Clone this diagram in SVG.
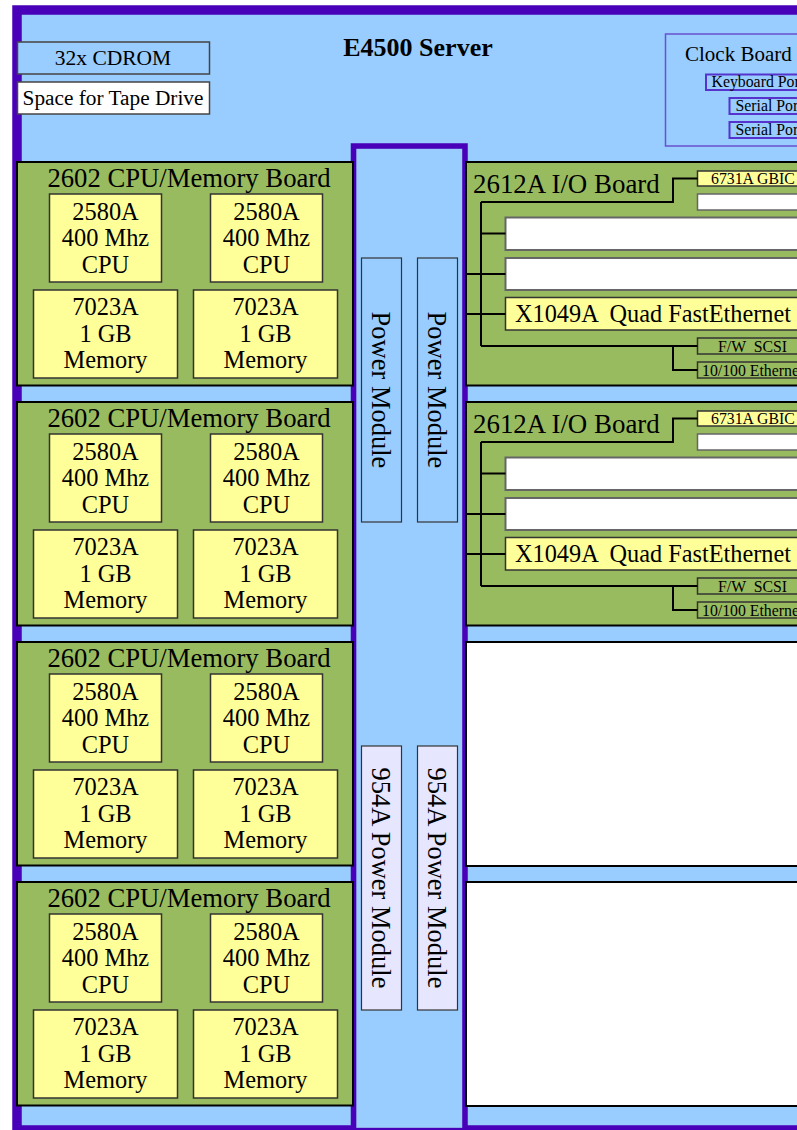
<svg xmlns="http://www.w3.org/2000/svg" width="797" height="1130" viewBox="0 0 797 1130">
<style>
.t{font-family:"Liberation Serif","Times New Roman",serif;fill:#000}
.board{fill:#99bb5f;stroke:#000;stroke-width:2}
.chip{fill:#ffff99;stroke:#333;stroke-width:1.5}
.slot{fill:#fff;stroke:#666;stroke-width:2}
.pm{fill:#99ccff;stroke:#333;stroke-width:1.2}
.pm2{fill:#e6e6ff;stroke:#333;stroke-width:1.2}
.port{fill:#99ccff;stroke:#5533cc;stroke-width:2}
.small{fill:#99bb5f;stroke:#333;stroke-width:1.5}
.bus{fill:none;stroke:#000;stroke-width:2}
.c24{font-size:24.4px;text-anchor:middle}
.s15{font-size:15.8px}
</style>
<defs>
<g id="cpuBoard">
  <rect class="board" x="17" y="162" width="336" height="223.5"/>
  <text class="t" x="189" y="187" font-size="26.7" text-anchor="middle">2602 CPU/Memory Board</text>
  <rect class="chip" x="49.5" y="194" width="112" height="88"/>
  <rect class="chip" x="210.5" y="194" width="112" height="88"/>
  <rect class="chip" x="33.5" y="290" width="144" height="88"/>
  <rect class="chip" x="193.5" y="290" width="144" height="88"/>
  <text class="t c24" x="105.5" y="219.5">2580A</text>
  <text class="t c24" x="105.5" y="246">400 Mhz</text>
  <text class="t c24" x="105.5" y="272.5">CPU</text>
  <text class="t c24" x="266.5" y="219.5">2580A</text>
  <text class="t c24" x="266.5" y="246">400 Mhz</text>
  <text class="t c24" x="266.5" y="272.5">CPU</text>
  <text class="t c24" x="105.5" y="315">7023A</text>
  <text class="t c24" x="105.5" y="341.5">1 GB</text>
  <text class="t c24" x="105.5" y="368">Memory</text>
  <text class="t c24" x="265.5" y="315">7023A</text>
  <text class="t c24" x="265.5" y="341.5">1 GB</text>
  <text class="t c24" x="265.5" y="368">Memory</text>
</g>
</defs>

<g id="chassis">
  <rect x="17" y="10" width="830" height="1120" fill="#99ccff" stroke="#4800b8" stroke-width="9.5"/>
  <text class="t" x="418" y="56" font-size="26" font-weight="bold" text-anchor="middle">E4500 Server</text>
</g>

<g id="cdrom">
  <rect x="17.5" y="42" width="192" height="32" fill="#99ccff" stroke="#444" stroke-width="1.5"/>
  <text class="t" x="113" y="65" font-size="21.5" text-anchor="middle">32x CDROM</text>
</g>
<g id="tape">
  <rect x="17.5" y="82" width="192" height="32" fill="#fff" stroke="#444" stroke-width="1.5"/>
  <text class="t" x="113" y="105" font-size="21.3" text-anchor="middle">Space for Tape Drive</text>
</g>

<g id="clock-board">
  <rect x="665.5" y="34" width="160" height="112" fill="#99ccff" stroke="#6a50d0" stroke-width="1.5"/>
  <text class="t" x="685" y="61" font-size="21">Clock Board</text>
</g>
<g id="keyboard-port">
  <rect class="port" x="706" y="74.5" width="110" height="15.5"/>
  <text class="t s15" x="711.5" y="87">Keyboard Port</text>
</g>
<g id="serial-port-1">
  <rect class="port" x="729.5" y="98" width="90" height="16"/>
  <text class="t s15" x="735.5" y="111">Serial Port</text>
</g>
<g id="serial-port-2">
  <rect class="port" x="729.5" y="122" width="90" height="16"/>
  <text class="t s15" x="735.5" y="135">Serial Port</text>
</g>

<g id="power-column">
  <rect x="356" y="148.5" width="107" height="979" fill="#99ccff" stroke="#8fa8e8" stroke-width="1"/>
  <path d="M353.5,1130 V146 H465 V1130" fill="none" stroke="#4800b8" stroke-width="5.5"/>
</g>

<g id="cpu-board-1"><use href="#cpuBoard"/></g>
<g id="cpu-board-2"><use href="#cpuBoard" transform="translate(0,240)"/></g>
<g id="cpu-board-3"><use href="#cpuBoard" transform="translate(0,480)"/></g>
<g id="cpu-board-4"><use href="#cpuBoard" transform="translate(0,720)"/></g>

<g id="power-module-1">
  <rect class="pm" x="361.5" y="258" width="40" height="264"/>
  <text class="t" transform="translate(371.5,390) rotate(90)" font-size="26.5" text-anchor="middle">Power Module</text>
</g>
<g id="power-module-2">
  <rect class="pm" x="417.5" y="258" width="40" height="264"/>
  <text class="t" transform="translate(427.5,390) rotate(90)" font-size="26.5" text-anchor="middle">Power Module</text>
</g>
<g id="power-module-954a-1">
  <rect class="pm2" x="361.5" y="746" width="40" height="264"/>
  <text class="t" transform="translate(371.5,878) rotate(90)" font-size="26.5" text-anchor="middle">954A Power Module</text>
</g>
<g id="power-module-954a-2">
  <rect class="pm2" x="417.5" y="746" width="40" height="264"/>
  <text class="t" transform="translate(427.5,878) rotate(90)" font-size="26.5" text-anchor="middle">954A Power Module</text>
</g>

<g id="io-board-1">
  <rect class="board" x="466" y="162" width="360" height="223.5"/>
  <text class="t" x="473" y="193" font-size="26.9">2612A I/O Board</text>
  <rect class="chip" x="697.5" y="171" width="130" height="15"/>
  <text class="t s15" x="711" y="183.5">6731A GBIC</text>
  <rect fill="#fff" stroke="#666" stroke-width="1.5" x="697.5" y="194" width="130" height="16"/>
  <rect class="slot" x="505.5" y="217.5" width="320" height="32.5"/>
  <rect class="slot" x="505.5" y="258" width="320" height="32"/>
  <rect class="chip" x="505.5" y="297.5" width="320" height="32.5"/>
  <text class="t" x="515" y="322" font-size="24.3" xml:space="preserve">X1049A  Quad FastEthernet</text>
  <rect class="small" x="697.5" y="338" width="130" height="16"/>
  <text class="t s15" x="718" y="351.5" xml:space="preserve">F/W  SCSI</text>
  <rect class="small" x="697.5" y="362" width="130" height="16"/>
  <text class="t s15" x="702" y="375.5">10/100 Ethernet</text>
</g>
<g id="io-board-2">
  <rect class="board" x="466" y="402" width="360" height="223.5"/>
  <text class="t" x="473" y="433" font-size="26.9">2612A I/O Board</text>
  <rect class="chip" x="697.5" y="411" width="130" height="15"/>
  <text class="t s15" x="711" y="423.5">6731A GBIC</text>
  <rect fill="#fff" stroke="#666" stroke-width="1.5" x="697.5" y="434" width="130" height="16"/>
  <rect class="slot" x="505.5" y="457.5" width="320" height="32.5"/>
  <rect class="slot" x="505.5" y="498" width="320" height="32"/>
  <rect class="chip" x="505.5" y="537.5" width="320" height="32.5"/>
  <text class="t" x="515" y="562" font-size="24.3" xml:space="preserve">X1049A  Quad FastEthernet</text>
  <rect class="small" x="697.5" y="578" width="130" height="16"/>
  <text class="t s15" x="718" y="591.5" xml:space="preserve">F/W  SCSI</text>
  <rect class="small" x="697.5" y="602" width="130" height="16"/>
  <text class="t s15" x="702" y="615.5">10/100 Ethernet</text>
</g>

<g id="empty-slot-1">
  <rect x="466" y="642" width="360" height="224" fill="#fff" stroke="#000" stroke-width="2"/>
</g>
<g id="empty-slot-2">
  <rect x="466" y="882" width="360" height="224" fill="#fff" stroke="#000" stroke-width="2"/>
</g>

<g id="connectors">
  <path class="bus" d="M481,202 V346 M481,202 H673 V178.5 H697.5 M481,233.5 H505.5 M467,274 H505.5 M467,314 H505.5 M481,346 H697.5 M673,346 V370 H697.5"/>
  <path class="bus" d="M481,442 V586 M481,442 H673 V418.5 H697.5 M481,473.5 H505.5 M467,514 H505.5 M467,554 H505.5 M481,586 H697.5 M673,586 V610 H697.5"/>
</g>
</svg>
